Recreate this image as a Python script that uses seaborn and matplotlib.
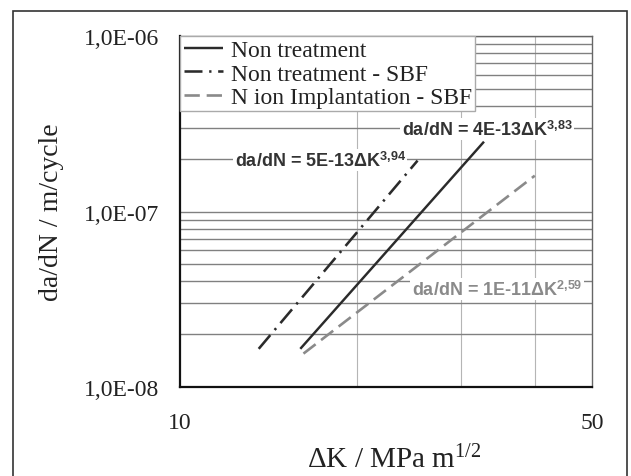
import numpy as np
import pandas as pd
import seaborn as sns
import matplotlib.pyplot as plt
from matplotlib.patches import Rectangle

# endpoints of the fitted power-law lines
series_names = ["Non treatment", "Non treatment - SBF", "N ion Implantation - SBF"]
dk_non = [16.0, 32.8]
dadn_non = [1.65e-8, 2.5e-7]
dk_sbf = [13.6, 25.3]
dadn_sbf = [1.65e-8, 1.95e-7]
dk_nion = [16.2, 40.0]
dadn_nion = [1.55e-8, 1.6e-7]

fit_labels = [r"da/dN = 4E-13ΔK$^{\mathbf{3{,}83}}$",
              r"da/dN = 5E-13ΔK$^{\mathbf{3{,}94}}$",
              r"da/dN = 1E-11ΔK$^{\mathbf{2{,}59}}$"]
fit_pos = [(33.2, 2.95e-7), (17.3, 1.97e-7), (34.5, 3.62e-8)]

y_ticks = [1e-8, 1e-7, 1e-6]
y_ticklabels = ["1,0E-08", "1,0E-07", "1,0E-06"]
x_ticks = [10, 50]
x_ticklabels = ["10", "50"]

sns.set_theme(style="white")
plt.rcParams["font.family"] = ["Liberation Serif", "DejaVu Serif"]
plt.rcParams["mathtext.fontset"] = "custom"
plt.rcParams["mathtext.rm"] = "Liberation Serif"
plt.rcParams["mathtext.it"] = "Liberation Serif"
plt.rcParams["mathtext.bf"] = "Liberation Sans:bold"

fig = plt.figure(figsize=(6.31, 4.77), dpi=100)
ax = fig.add_axes([0.2853, 0.1866, 0.6527, 0.7358])

df = pd.concat([
    pd.DataFrame({"dk": dk_non, "dadn": dadn_non, "series": series_names[0]}),
    pd.DataFrame({"dk": dk_sbf, "dadn": dadn_sbf, "series": series_names[1]}),
    pd.DataFrame({"dk": dk_nion, "dadn": dadn_nion, "series": series_names[2]}),
])

colors = ["#2b2b2b", "#2b2b2b", "#8a8a8a"]
widths = [1.75, 1.85, 1.9]
dash_styles = [None, (7.0, 2.6, 0.9, 2.6), (5.8, 2.6)]

handles = []
for name, c, lw, ds in zip(series_names, colors, widths, dash_styles):
    sub = df[df["series"] == name]
    sns.lineplot(data=sub, x="dk", y="dadn", color=c, linewidth=lw, ax=ax,
                 legend=False, zorder=3)
    ln = ax.lines[-1]
    ln.set_solid_capstyle("butt")
    ln.set_dash_capstyle("butt")
    if ds is not None:
        ln.set_dashes(ds)
    handles.append(ln)

ax.set_xscale("log")
ax.set_yscale("log")
ax.set_xlim(10, 50)
ax.set_ylim(1e-8, 1e-6)

ax.set_yticks(y_ticks)
ax.set_yticklabels(y_ticklabels)
ax.set_xticks(x_ticks)
ax.set_xticklabels(x_ticklabels)
ax.xaxis.set_minor_locator(plt.FixedLocator([20, 30, 40]))
ax.xaxis.set_minor_formatter(plt.NullFormatter())
ax.yaxis.set_minor_formatter(plt.NullFormatter())
ax.tick_params(axis="both", which="both", length=0, labelsize=17, colors="#222222")
ax.tick_params(axis="y", pad=15)
ax.tick_params(axis="x", pad=18)

ax.grid(True, which="both", axis="y", color="#808080", linewidth=1.0)
ax.grid(True, which="minor", axis="x", color="#b5b5b5", linewidth=0.8)
ax.set_axisbelow(True)

for side in ["left", "bottom"]:
    ax.spines[side].set_color("#111111")
    ax.spines[side].set_linewidth(1.6)
for side in ["top", "right"]:
    ax.spines[side].set_color("#666666")
    ax.spines[side].set_linewidth(1.0)

ax.set_xlabel(r"$\Delta$K / MPa m$^{1/2}$", fontsize=21, color="#222222", labelpad=10)
ax.xaxis.set_label_coords(0.52, -0.165)
ax.set_ylabel("da/dN / m/cycle", fontsize=20, color="#222222", labelpad=14)

fit_colors = ["#333333", "#333333", "#8a8a8a"]
for lab, (px, py), c in zip(fit_labels, fit_pos, fit_colors):
    ax.text(px, py, lab, ha="center", va="center", fontsize=13, color=c,
            fontweight="bold", family="Liberation Sans", zorder=4,
            math_fontfamily="custom",
            bbox=dict(facecolor="white", edgecolor="none", pad=1.0))

leg = ax.legend(handles, series_names, loc="upper left", bbox_to_anchor=(0, 1),
                borderaxespad=0, fontsize=17, handlelength=1.65, handletextpad=0.35,
                labelspacing=0.08, borderpad=0.15, fancybox=False, framealpha=1,
                edgecolor="#aaaaaa")
leg.get_frame().set_linewidth(1.0)
for t in leg.get_texts():
    t.set_color("#222222")

fig.patches.append(Rectangle((0.0206, -0.1), 0.973, 1.0748, transform=fig.transFigure,
                             fill=False, edgecolor="#333333", linewidth=1.2))

fig.savefig("out.png", dpi=100)
